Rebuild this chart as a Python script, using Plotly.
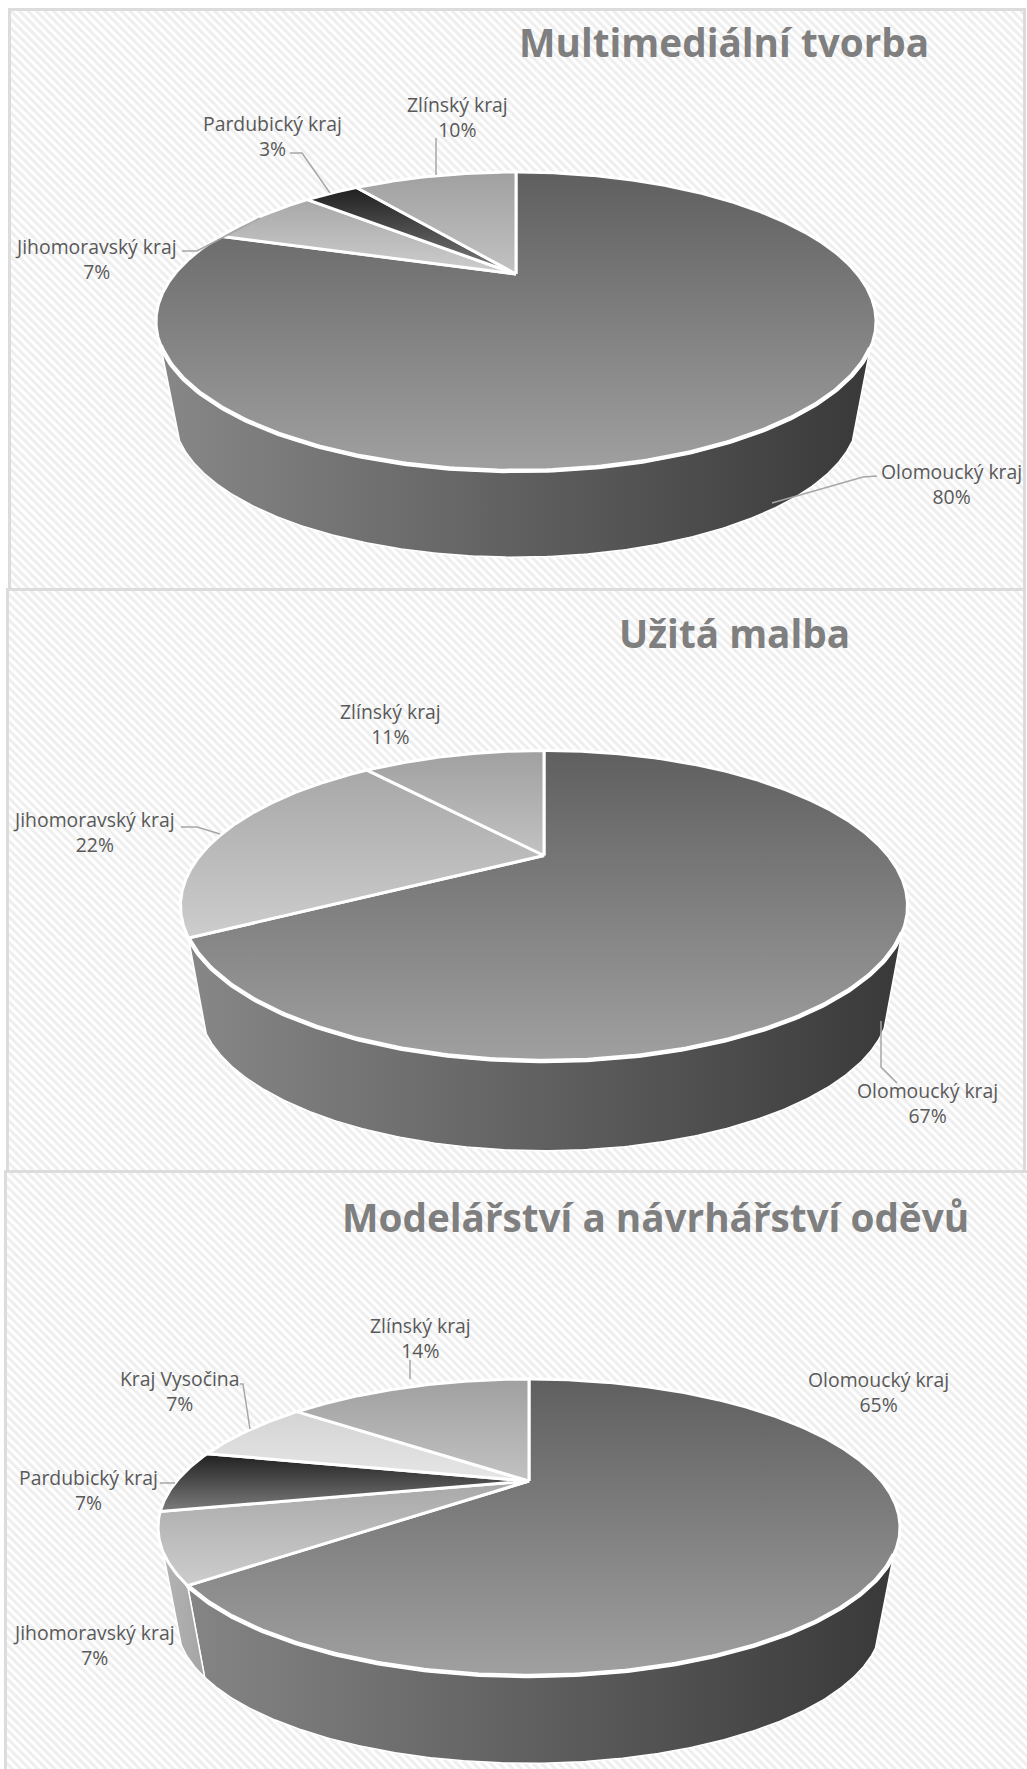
import numpy as np
import plotly.graph_objects as go

# ---------- data ----------
titles = ["Multimediální tvorba", "Užitá malba", "Modelářství a návrhářství oděvů"]
cats_1 = ["Olomoucký kraj", "Jihomoravský kraj", "Pardubický kraj", "Zlínský kraj"]
vals_1 = [80, 6.7, 3.3, 10]
pcts_1 = [80, 7, 3, 10]
cats_2 = ["Olomoucký kraj", "Jihomoravský kraj", "Zlínský kraj"]
vals_2 = [66.7, 22.2, 11.1]
pcts_2 = [67, 22, 11]
cats_3 = ["Olomoucký kraj", "Jihomoravský kraj", "Pardubický kraj", "Kraj Vysočina", "Zlínský kraj"]
vals_3 = [64.2, 7.4, 6.9, 7.1, 14.4]
pcts_3 = [65, 7, 7, 7, 14]

# ---------- styling per category: top-face gradient (back, front), wall gradient (left, right) ----------
FACE = {
    "Olomoucký kraj": ("#5f5f5f", "#a0a0a0"),
    "Jihomoravský kraj": ("#a8a8a8", "#cdcdcd"),
    "Pardubický kraj": ("#1f1f1f", "#7c7c7c"),
    "Kraj Vysočina": ("#d4d4d4", "#e6e6e6"),
    "Zlínský kraj": ("#a0a0a0", "#c2c2c2"),
}
WALL = {
    "Olomoucký kraj": ("#868686", "#3a3a3a"),
    "Jihomoravský kraj": ("#b4b4b4", "#a4a4a4"),
    "Pardubický kraj": ("#555555", "#333333"),
    "Kraj Vysočina": ("#cccccc", "#aaaaaa"),
    "Zlínský kraj": ("#aaaaaa", "#888888"),
}

# geometry of every panel (screen pixels)
PANELS = [
    dict(left=10, right=1025, top=10, bottom=590, cx=516, apex=274, rx=360, back=102, front=197, drop=96),
    dict(left=8, right=1025, top=590, bottom=1172, cx=544, apex=855.5, rx=363.5, back=105, front=205.5, drop=100),
    dict(left=6, right=1032, top=1172, bottom=1775, cx=529, apex=1481, rx=371, back=102, front=195, drop=97),
]
TITLE_POS = [(724, 42), (734, 633), (655, 1217)]
LABEL_POS = [
    {"Zlínský kraj": (457, 117), "Pardubický kraj": (272, 136), "Jihomoravský kraj": (96, 259), "Olomoucký kraj": (951, 484)},
    {"Zlínský kraj": (390, 724), "Jihomoravský kraj": (94, 832), "Olomoucký kraj": (927, 1103)},
    {"Zlínský kraj": (420, 1338), "Kraj Vysočina": (180, 1391), "Pardubický kraj": (88, 1490),
     "Jihomoravský kraj": (94, 1645), "Olomoucký kraj": (878, 1392)},
]
LEADERS = [
    [[(436, 138), (436, 175)], [(290, 153), (302, 153), (330, 193)],
     [(182, 251), (197, 251), (260, 218)], [(877, 476), (863, 477), (772, 503)]],
    [[(181, 827), (197, 827), (220, 834)], [(881, 1021), (881, 1067), (897, 1083)]],
    [[(410, 1360), (410, 1379)], [(240, 1384), (243, 1384), (250, 1429)], [(160, 1483), (175, 1483)]],
]
LOWER_SCALE = 0.95
WALL_FROM, WALL_TO = 118, 243


def projector(p):
    """Perspective mapping of the pie's unit circle to the screen."""
    ratio = p["front"] / p["back"]
    k = (ratio - 1) / (ratio + 1)
    B = p["back"] * (1 + k)
    A = p["rx"] * np.sqrt(1 - k * k)

    def project(deg, radius=1.0, lower=False):
        t = np.radians(deg)
        u, v = radius * np.sin(t), radius * np.cos(t)
        w = 1 + k * v
        X, Y = A * u / w, -B * v / w
        if lower:
            return p["cx"] + LOWER_SCALE * X, p["apex"] + p["drop"] + LOWER_SCALE * Y
        return p["cx"] + X, p["apex"] + Y
    return project


fig = go.Figure()

# panel backgrounds
fig.add_trace(go.Bar(
    x=[(p["left"] + p["right"]) / 2 for p in PANELS],
    y=[p["bottom"] - p["top"] for p in PANELS],
    base=[p["top"] for p in PANELS],
    width=[p["right"] - p["left"] for p in PANELS],
    marker=dict(
        color="white",
        line=dict(color="#dcdcdc", width=3),
        pattern=dict(shape="\\", size=6, solidity=0.5, fgcolor="#dedede", bgcolor="white"),
    ),
    hoverinfo="skip", showlegend=False,
))


def grad(kind, c0, c1, start, stop):
    return dict(type=kind, colorscale=[[0, c0], [1, c1]], start=start, stop=stop)


def draw_pie(p, cats, vals):
    project = projector(p)
    edges = np.concatenate([[0], np.cumsum(vals)]) * 360.0 / sum(vals)
    xmin = project(np.array([270.0]))[0][0]
    xmax = project(np.array([90.0]))[0][0]
    # walls first
    for cat, a0, a1 in zip(cats, edges[:-1], edges[1:]):
        lo, hi = max(a0, WALL_FROM), min(a1, WALL_TO)
        if hi - lo < 4:
            continue
        ang = np.linspace(lo, hi, int(hi - lo) * 2 + 2)
        tx, ty = project(ang)
        bx, by = project(ang[::-1], lower=True)
        xs = np.concatenate([tx, bx, tx[:1]])
        ys = np.concatenate([ty, by, ty[:1]])
        c0, c1 = WALL[cat]
        main = cat == "Olomoucký kraj"
        fig.add_trace(go.Scatter(
            x=xs, y=ys, mode="lines", fill="toself",
            fillgradient=grad("horizontal", c0, c1, xmin if main else xs.min(), xmax if main else xs.max()),
            line=dict(color="white", width=1.5), hoverinfo="skip", showlegend=False,
        ))
    # top faces
    for cat, a0, a1 in zip(cats, edges[:-1], edges[1:]):
        ang = np.linspace(a0, a1, int(a1 - a0) * 2 + 2)
        ax, ay = project(np.array([0.0]), radius=0.0)
        rx_, ry_ = project(ang)
        xs = np.concatenate([ax, rx_, ax])
        ys = np.concatenate([ay, ry_, ay])
        c0, c1 = FACE[cat]
        fig.add_trace(go.Scatter(
            x=xs, y=ys, mode="lines", fill="toself",
            fillgradient=grad("vertical", c0, c1, ys.min(), ys.max()),
            line=dict(color="white", width=3), hoverinfo="skip", showlegend=False,
        ))
    # the bright front rim of the top face
    ang = np.linspace(WALL_FROM, min(edges[1], WALL_TO), 200)
    fx, fy = project(ang)
    fig.add_trace(go.Scatter(
        x=fx, y=fy, mode="lines", line=dict(color="white", width=4.5),
        hoverinfo="skip", showlegend=False,
    ))


series = [(cats_1, vals_1, pcts_1), (cats_2, vals_2, pcts_2), (cats_3, vals_3, pcts_3)]
annotations = []
for i, (p, (cats, vals, pcts)) in enumerate(zip(PANELS, series)):
    draw_pie(p, cats, vals)
    for seg in LEADERS[i]:
        fig.add_trace(go.Scatter(
            x=[q[0] for q in seg], y=[q[1] for q in seg], mode="lines",
            line=dict(color="#a6a6a6", width=1.5), hoverinfo="skip", showlegend=False,
        ))
    for cat, v in zip(cats, pcts):
        lx, ly = LABEL_POS[i][cat]
        annotations.append(dict(
            x=lx, y=ly, xref="x", yref="y", text=f"{cat}<br>{v}%", showarrow=False,
            xanchor="center", yanchor="middle", align="center",
            font=dict(family="Open Sans", size=19.4, color="#595959"),
        ))
    tx, ty = TITLE_POS[i]
    annotations.append(dict(
        x=tx, y=ty, xref="x", yref="y", text=f"<b>{titles[i]}</b>", showarrow=False,
        xanchor="center", yanchor="middle",
        font=dict(family="Open Sans", size=38.7, color="#7f7f7f"),
    ))

fig.update_layout(
    width=1027, height=1769, margin=dict(l=0, r=0, t=0, b=0),
    paper_bgcolor="white", plot_bgcolor="white", showlegend=False, bargap=0,
    xaxis=dict(range=[0, 1027], visible=False, fixedrange=True),
    yaxis=dict(range=[1769, 0], visible=False, fixedrange=True),
    annotations=annotations,
)
fig.write_html("out.html", config={"displayModeBar": False},
               post_script="document.body.style.margin='0';")
